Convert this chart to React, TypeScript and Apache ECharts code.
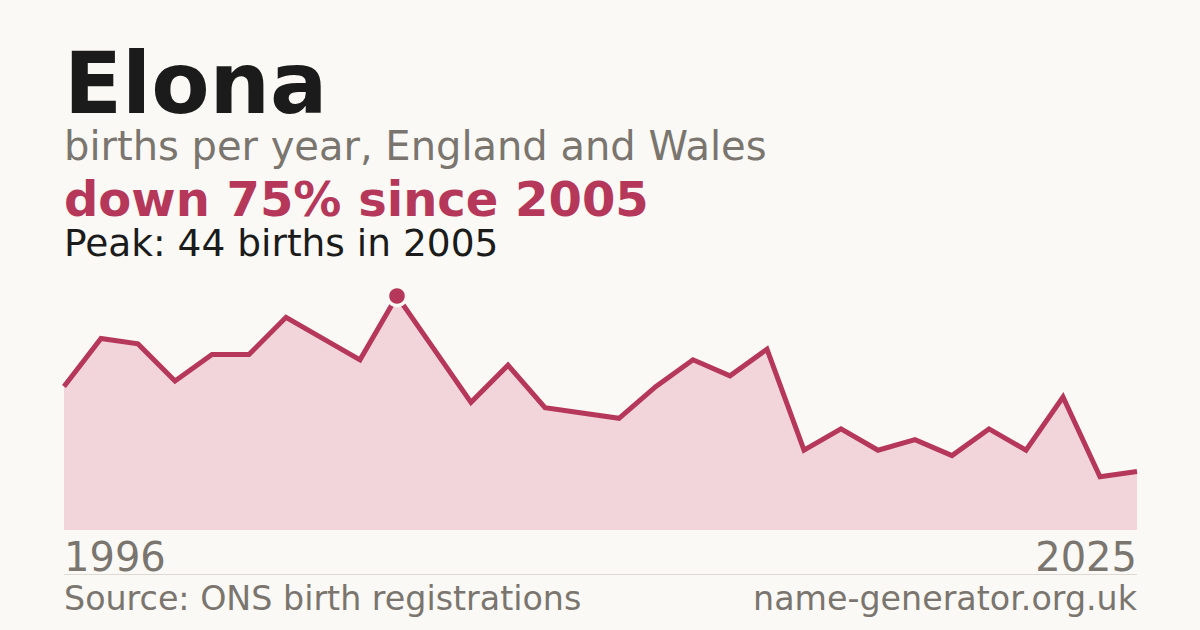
import React, { useEffect, useRef } from 'react';
import * as echarts from 'echarts';

const years: string[] = [
  '1996', '1997', '1998', '1999', '2000', '2001', '2002', '2003', '2004', '2005',
  '2006', '2007', '2008', '2009', '2010', '2011', '2012', '2013', '2014', '2015',
  '2016', '2017', '2018', '2019', '2020', '2021', '2022', '2023', '2024', '2025',
];
const births: number[] = [
  27, 36, 35, 28, 33, 33, 40, 36, 32, 44,
  34, 24, 31, 23, 22, 21, 27, 32, 29, 34,
  15, 19, 15, 17, 14, 19, 15, 25, 10, 11,
];

const BG = '#faf9f5';
const ACCENT = '#b5385a';
const GREY = '#7a756e';
const FONT = '"DejaVu Sans", sans-serif';

const App: React.FC = () => {
  const chartRef = useRef<HTMLDivElement>(null);

  useEffect(() => {
    if (!chartRef.current) return;
    const chart = echarts.init(chartRef.current, undefined, { renderer: 'svg' });

    const peak = Math.max(...births);
    const peakIdx = births.indexOf(peak);
    const last = births[births.length - 1];
    const drop = Math.round((1 - last / peak) * 100);

    const option: echarts.EChartsOption = {
      animation: false,
      backgroundColor: BG,
      textStyle: { fontFamily: FONT },
      grid: { left: 64, right: 63, top: 296, bottom: 100 },
      xAxis: {
        type: 'category',
        data: years,
        boundaryGap: false,
        axisLine: { show: false },
        axisTick: { show: false },
        axisLabel: {
          interval: (i: number) => i === 0 || i === years.length - 1,
          color: GREY,
          fontSize: 40,
          fontFamily: FONT,
          margin: 7,
          alignMinLabel: 'left',
          alignMaxLabel: 'right',
        } as any,
      },
      yAxis: {
        type: 'value',
        min: 0,
        max: peak,
        show: false,
        splitLine: { show: false },
      },
      series: [
        {
          type: 'line',
          data: births,
          symbol: 'none',
          lineStyle: { color: ACCENT, width: 5, join: 'miter' },
          areaStyle: { color: '#f1d5db', opacity: 1 },
          z: 2,
        },
        {
          type: 'scatter',
          data: [[peakIdx, peak]],
          symbol: 'circle',
          symbolSize: 19,
          itemStyle: { color: ACCENT, borderColor: BG, borderWidth: 3.5, opacity: 1 },
          z: 3,
        },
      ],
      graphic: [
        {
          type: 'text',
          left: 64,
          top: 41,
          style: { text: 'Elona', font: `bold 85px ${FONT}`, fill: '#1b1b1b' },
        },
        {
          type: 'text',
          left: 64,
          top: 126,
          style: { text: 'births per year, England and Wales', font: `40px ${FONT}`, fill: GREY },
        },
        {
          type: 'text',
          left: 64,
          top: 175,
          style: { text: `down ${drop}% since ${years[peakIdx]}`, font: `bold 48px ${FONT}`, fill: ACCENT },
        },
        {
          type: 'text',
          left: 64,
          top: 224,
          style: { text: `Peak: ${peak} births in ${years[peakIdx]}`, font: `37.5px ${FONT}`, fill: '#1b1b1b' },
        },
        {
          type: 'line',
          shape: { x1: 64, y1: 574.5, x2: 1137, y2: 574.5 },
          style: { stroke: '#dedad3', lineWidth: 1 },
        },
        {
          type: 'text',
          left: 64,
          top: 582,
          style: { text: 'Source: ONS birth registrations', font: `33.3px ${FONT}`, fill: GREY },
        },
        {
          type: 'text',
          right: 63,
          top: 582,
          style: { text: 'name-generator.org.uk', font: `33.3px ${FONT}`, fill: GREY },
        },
      ],
    };

    chart.setOption(option);
    return () => {
      chart.dispose();
    };
  }, []);

  return (
    <div
      ref={chartRef}
      style={{ position: 'fixed', left: 0, top: 0, width: 1200, height: 630 }}
    ></div>
  );
};

export default App;
